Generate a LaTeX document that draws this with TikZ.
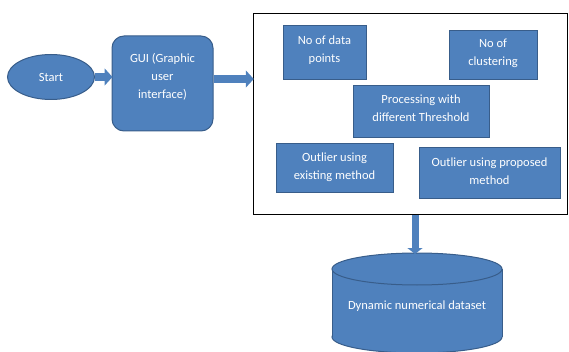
\documentclass[tikz,border=0pt]{standalone}
\usepackage{fontspec}
\setmainfont{Carlito}
\usetikzlibrary{arrows.meta,calc,shapes.geometric}
\definecolor{boxfill}{HTML}{4F81BD}
\definecolor{boxline}{HTML}{385D8A}
\tikzset{
  flowbox/.style={draw=boxline, line width=1pt, fill=boxfill, inner sep=0pt},
  boxtext/.style={text=white, font=\fontsize{12.5}{18}\selectfont, align=center, inner sep=1pt},
  blockarrow/.style={draw=boxfill, line width=8pt, -{Triangle[length=8pt,width=17pt]}, shorten >=-1pt},
}
\begin{document}
\begin{tikzpicture}[x=1pt,y=-1pt]
\useasboundingbox (0,0) rectangle (569,352);
% start
\node[flowbox, ellipse, minimum width=87pt, minimum height=45pt, boxtext] (start) at (51,77) {Start};
% GUI
\node[flowbox, rounded corners=12pt, minimum width=101pt, minimum height=95pt] (gui) at (162.5,83.5) {};
\node[boxtext] (guit) at ($(gui.center)+(0,-6.5)$) {GUI (Graphic\\user\\interface)};
% frame
\node[draw=black, line width=1.5pt, minimum width=314pt, minimum height=201pt, inner sep=0pt] (frame) at (410.5,114) {};
% inner boxes
\node[flowbox, minimum width=83pt, minimum height=54pt] (pts) at (324.5,53) {};
\node[boxtext] (ptst) at ($(pts.center)+(0,-3)$) {No of data\\points};
\node[flowbox, minimum width=88pt, minimum height=49pt] (clu) at (493,55.5) {};
\node[boxtext] (clut) at ($(clu.center)+(0,-2)$) {No of\\clustering};
\node[flowbox, minimum width=136pt, minimum height=52pt] (proc) at (421,112) {};
\node[boxtext] (proct) at ($(proc.center)+(0,-3.5)$) {Processing with\\different Threshold};
\node[flowbox, minimum width=117pt, minimum height=49pt] (exist) at (334.5,168.5) {};
\node[boxtext] (existt) at ($(exist.center)+(0,-1)$) {Outlier using\\existing method};
\node[flowbox, minimum width=141pt, minimum height=51pt] (prop) at (489.5,173.5) {};
\node[boxtext] (propt) at ($(prop.center)+(0,-2.5)$) {Outlier using proposed\\method};
% cylinder
\begin{scope}[draw=boxline, line width=1pt]
\filldraw[fill=boxfill] (417,337) ellipse [x radius=85, y radius=16];
\fill[boxfill] (332,269) rectangle (502,337);
\draw (332,269) -- (332,337);
\draw (502,269) -- (502,337);
\filldraw[fill=boxfill] (417,269) ellipse [x radius=85, y radius=16];
\end{scope}
\coordinate (cyltop) at (415,253);
\node[boxtext] (data) at (417,306) {Dynamic numerical dataset};
% arrows
\draw[blockarrow] (start.east) -- (gui.west |- start.east);
\draw[blockarrow] (gui.east |- 0,79) -- (frame.west |- 0,79);
\draw[blockarrow, line width=7pt, -{Triangle[length=6pt,width=15pt]}] (frame.south -| cyltop) -- (cyltop);
\end{tikzpicture}
\end{document}
